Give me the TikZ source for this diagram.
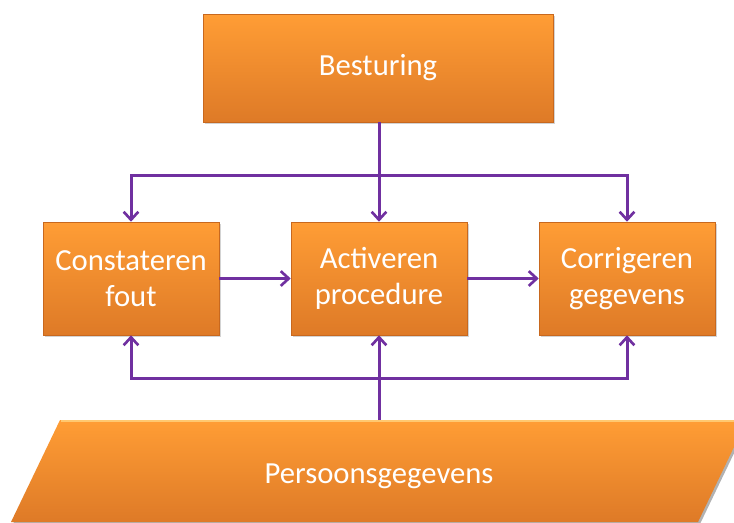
\documentclass[tikz,border=0pt]{standalone}
\usepackage{fontspec}
\setmainfont{Carlito}
\usepackage{xcolor}
\usetikzlibrary{arrows.meta, shadows, positioning}

\definecolor{OrangeTop}{HTML}{FF9D35}
\definecolor{OrangeBot}{HTML}{DE7A27}
\definecolor{OrangeEdge}{HTML}{C8681E}
\definecolor{OrangeLight}{HTML}{FFC870}
\definecolor{FlowPurple}{HTML}{7030A0}

\tikzset{
    procbox/.style={rectangle, top color=OrangeTop, bottom color=OrangeBot,
        draw=OrangeEdge, line width=0.4pt, text=white, align=center,
        minimum width=132pt, minimum height=84.75pt,
        font=\fontsize{23}{27.5}\selectfont,
        drop shadow={shadow xshift=1.2pt, shadow yshift=-1.2pt, opacity=0.35}},
    flow/.style={line width=2.25pt, FlowPurple, -{Straight Barb[length=6pt, width=11pt, line width=2pt]}}
}

\begin{document}
\begin{tikzpicture}[x=0.75pt, y=-0.75pt]
    \useasboundingbox (0,0) rectangle (734,522);
    \begin{scope}
        \clip (0,0) rectangle (734,522);
        % data store
        \fill[black, opacity=0.3] (62,422) -- (749,422) -- (700,524) -- (13,524) -- cycle;
        \shade[top color=OrangeTop, bottom color=OrangeBot] (60,420) -- (747,420) -- (698,522) -- (11,522) -- cycle;
        \draw[line width=1pt, color=OrangeLight] (61,421) -- (746,421);
        \node[text=white, font=\fontsize{23}{27.5}\selectfont] (pers) at (379,476) {Persoonsgegevens};
    \end{scope}
    \coordinate (perstop) at (379,420);

    \node[procbox, minimum width=262.5pt, minimum height=81pt] (best) at (378,68) {Besturing};
    \node[procbox] (con) at (131,278.5) {Constateren\\fout};
    \node[procbox] (act) at (379,278.5) {Activeren\\procedure};
    \node[procbox] (cor) at (627,278.5) {Corrigeren\\gegevens};

    \coordinate (jtop) at (379,175);
    \coordinate (jbot) at (379,378);

    \draw[flow] (best.south -| act) -- (act.north);
    \draw[flow] (jtop) -| (con.north);
    \draw[flow] (jtop) -| (cor.north);

    \draw[flow] (con.east) -- (act.west);
    \draw[flow] (act.east) -- (cor.west);

    \draw[flow] (perstop) -- (act.south);
    \draw[flow] (jbot) -| (con.south);
    \draw[flow] (jbot) -| (cor.south);
\end{tikzpicture}
\end{document}
